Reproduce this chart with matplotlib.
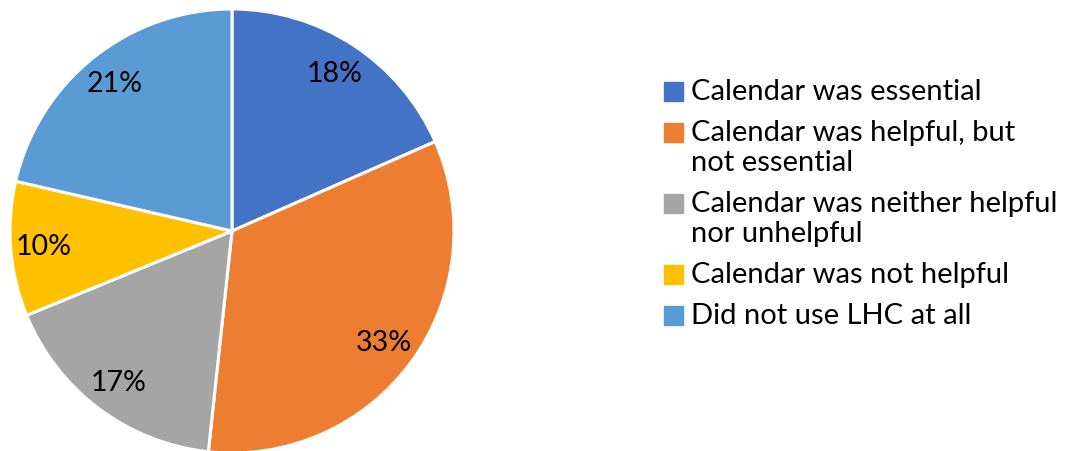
import matplotlib.pyplot as plt
from matplotlib.patches import Rectangle

# Data (percent shares)
labels = [
    "Calendar was essential",
    "Calendar was helpful, but\nnot essential",
    "Calendar was neither helpful\nnor unhelpful",
    "Calendar was not helpful",
    "Did not use LHC at all",
]
shares = [18.4, 33.3, 17.1, 9.8, 21.4]
colors = ["#4472C4", "#ED7D31", "#A5A5A5", "#FFC000", "#5B9BD5"]

plt.rcParams["font.family"] = ["Lato", "DejaVu Sans"]

W, H = 1077, 452
fig = plt.figure(figsize=(W / 100, H / 100), dpi=100)

# pie: center (232, 232), radius 222 px
cx, cy, r = 232, 232, 222
ax = fig.add_axes([(cx - r) / W, 1 - (cy + r) / H, 2 * r / W, 2 * r / H])
ax.pie(
    shares,
    colors=colors,
    startangle=90,
    counterclock=False,
    autopct=lambda p: f"{p:.0f}%",
    pctdistance=0.85,
    wedgeprops=dict(edgecolor="white", linewidth=2.2),
    textprops=dict(fontsize=20.5, color="black"),
)
ax.set_xlim(-1, 1)
ax.set_ylim(-1, 1)
ax.set_aspect("equal")
ax.axis("off")

# legend drawn by hand so the swatch lines up with the first text line
y = 92
for lab, col in zip(labels, colors):
    lines = lab.split("\n")
    fig.patches.append(
        Rectangle((664 / W, 1 - (y + 9.5) / H), 19 / W, 19 / H,
                  transform=fig.transFigure, color=col)
    )
    for k, line in enumerate(lines):
        fig.text(691 / W, 1 - (y + 30 * k) / H, line, fontsize=21,
                 va="center", ha="left")
    y += len(lines) * 30 + 11

fig.savefig("out.png", dpi=100)
